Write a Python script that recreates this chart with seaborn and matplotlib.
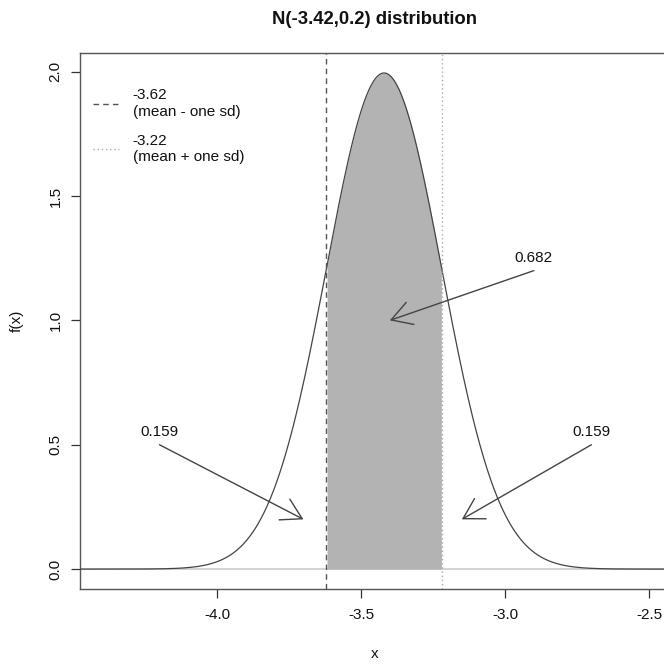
import numpy as np
import pandas as pd
import matplotlib
matplotlib.use("Agg")
import matplotlib.pyplot as plt
import seaborn as sns

# distribution shown in the chart
mu = -3.42
sigma = 0.2
x_lims = [-4.476, -2.427]
y_lims = [-0.08, 2.075]
sd_bounds = [-3.62, -3.22]
sd_labels = ["-3.62\n(mean - one sd)", "-3.22\n(mean + one sd)"]
area_labels = ["0.159", "0.682", "0.159"]
# arrow tails / heads and text spots (data units)
arrow_tail = [(-4.2, 0.50), (-2.9, 1.20), (-2.7, 0.50)]
arrow_head = [(-3.7, 0.20), (-3.4, 1.00), (-3.15, 0.20)]
text_pos = [(-4.2, 0.55), (-2.9, 1.25), (-2.7, 0.55)]
x_ticks = [-4.0, -3.5, -3.0, -2.5]
y_ticks = [0.0, 0.5, 1.0, 1.5, 2.0]

xs = np.linspace(x_lims[0], x_lims[1], 801)
dens = np.exp(-0.5 * ((xs - mu) / sigma) ** 2) / (sigma * np.sqrt(2 * np.pi))
df = pd.DataFrame({"x": xs, "f": dens})

sns.set_style("white")
plt.rcParams["font.family"] = ["Liberation Sans", "DejaVu Sans"]
plt.rcParams["text.color"] = "#111111"
plt.rcParams["axes.labelcolor"] = "#111111"
plt.rcParams["xtick.color"] = "#333333"
plt.rcParams["ytick.color"] = "#333333"
plt.rcParams["xtick.labelcolor"] = "#111111"
plt.rcParams["ytick.labelcolor"] = "#111111"

fig = plt.figure(figsize=(6.64, 6.64), dpi=100)
# plot box runs slightly past the right edge like the original crop
ax = fig.add_axes([80 / 664, 75 / 664, 590 / 664, 536 / 664])

dark = "#444444"
ax.axhline(0, color="#d4d4d4", lw=1.5, zorder=1)
sns.lineplot(data=df, x="x", y="f", color=dark, lw=0.9, ax=ax, zorder=3)

inside = df[(df.x >= sd_bounds[0]) & (df.x <= sd_bounds[1])]
ax.fill_between(inside.x, 0, inside.f, color="#b3b3b3", lw=0, zorder=2)

ax.axvline(sd_bounds[0], color="#555555", lw=1, ls=(0, (4, 3)), zorder=4,
           label=sd_labels[0])
ax.axvline(sd_bounds[1], color="#aaaaaa", lw=1, ls=(0, (1, 2)), zorder=4,
           label=sd_labels[1])

for lab, tail, head, tp in zip(area_labels, arrow_tail, arrow_head, text_pos):
    ax.annotate("", xy=head, xytext=tail,
                arrowprops=dict(arrowstyle="->,head_length=0.72,head_width=0.42",
                                color=dark, lw=1, mutation_scale=20,
                                shrinkA=0, shrinkB=0))
    ax.text(tp[0], tp[1], lab, ha="center", va="center", fontsize=11)

ax.set_xlim(*x_lims)
ax.set_ylim(*y_lims)
ax.set_xticks(x_ticks)
ax.set_xticklabels([f"{t:.1f}" for t in x_ticks])
ax.set_yticks(y_ticks)
ax.set_yticklabels([f"{t:.1f}" for t in y_ticks], rotation=90, va="center")
ax.tick_params(direction="out", length=6.5, width=0.9,
               labelsize=11, bottom=True, left=True)
ax.tick_params(axis="x", pad=7)
ax.tick_params(axis="y", pad=6)
for s in ax.spines.values():
    s.set_color("#555555")
    s.set_linewidth(1)

ax.set_xlabel("x", fontsize=11, labelpad=18)
ax.set_ylabel("f(x)", fontsize=11, labelpad=18)
ax.set_title("N(-3.42,0.2) distribution", fontsize=13.3, fontweight="bold", pad=21)

ax.legend(loc="upper left", bbox_to_anchor=(0.022, 0.934), frameon=False,
          fontsize=11, handlelength=1.7, handletextpad=0.9,
          labelspacing=1.0, borderpad=0, borderaxespad=0)

fig.savefig("out.png", dpi=100)
